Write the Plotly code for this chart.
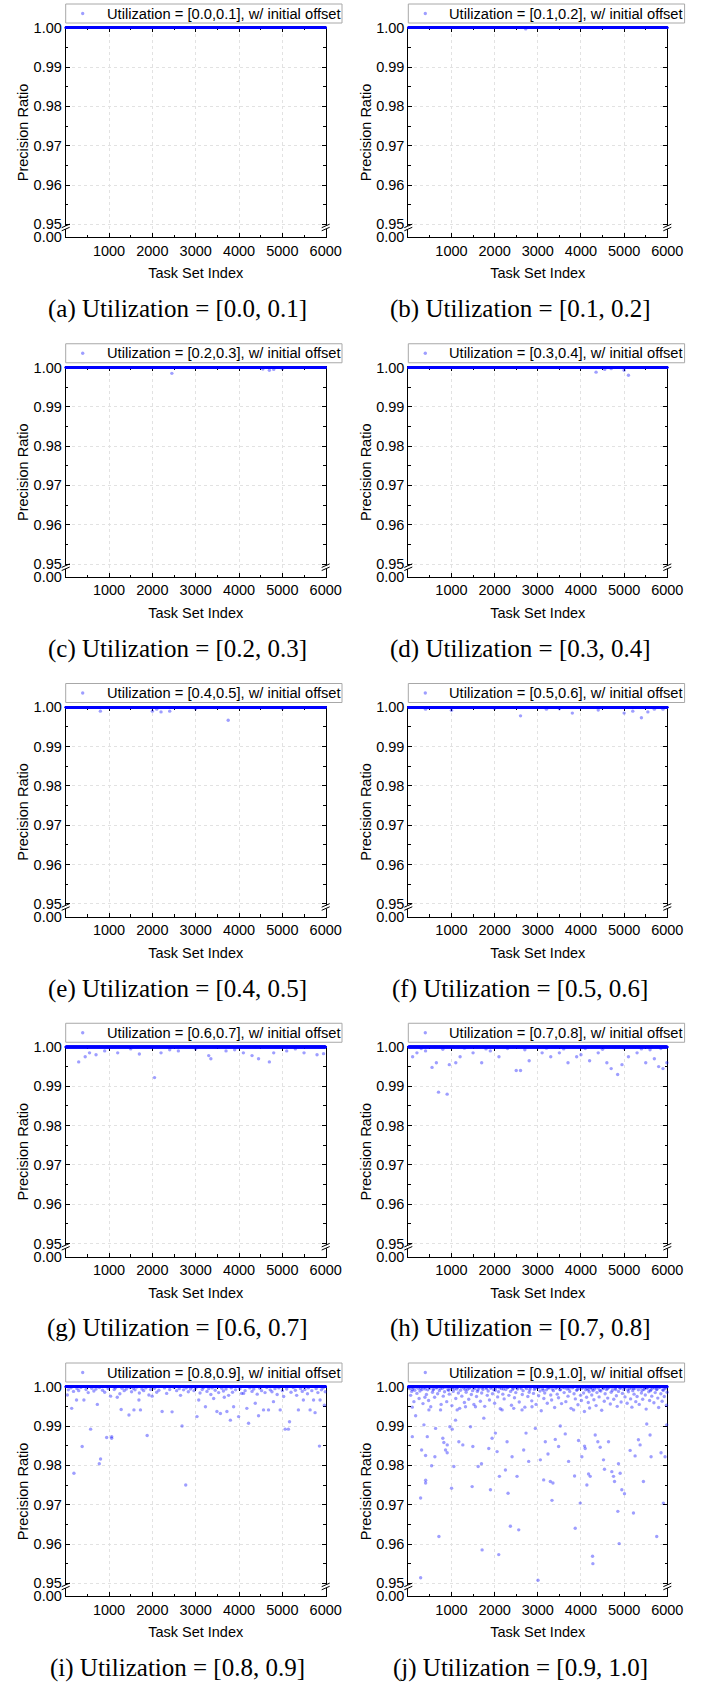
import plotly.graph_objects as go

# ---------------- data ----------------
task_ids = list(range(1, 6001))          # Task Set Index 1..6000

util_labels = ["[0.0,0.1]", "[0.1,0.2]", "[0.2,0.3]", "[0.3,0.4]", "[0.4,0.5]",
               "[0.5,0.6]", "[0.6,0.7]", "[0.7,0.8]", "[0.8,0.9]", "[0.9,1.0]"]
caption_labels = ["(a) Utilization = [0.0, 0.1]", "(b) Utilization = [0.1, 0.2]",
                  "(c) Utilization = [0.2, 0.3]", "(d) Utilization = [0.3, 0.4]",
                  "(e) Utilization = [0.4, 0.5]", "(f) Utilization = [0.5, 0.6]",
                  "(g) Utilization = [0.6, 0.7]", "(h) Utilization = [0.7, 0.8]",
                  "(i) Utilization = [0.8, 0.9]", "(j) Utilization = [0.9, 1.0]"]

x_ticks = [1000, 2000, 3000, 4000, 5000, 6000]
x_minor = [500, 1500, 2500, 3500, 4500, 5500]
y_ticks = [0.95, 0.96, 0.97, 0.98, 0.99, 1.00]
y_minor = [0.955, 0.965, 0.975, 0.985, 0.995]

# task sets whose precision ratio is below 1.0 (index, ratio); all others are 1.0
low_a = []
low_b = [(2720, 0.9997)]
low_c = [(2450, 0.9985), (4550, 0.9996), (4700, 0.9993), (4800, 0.9995), (5000, 0.9997)]
low_d = [(4350, 0.9988), (4550, 0.9995), (5100, 0.9980), (5000, 0.9993), (4700, 0.9997)]
low_e = [(800, 0.9990), (2000, 0.9990), (2200, 0.9988), (2400, 0.9990), (2100, 0.9995),
         (3750, 0.9967), (3000, 0.9996), (5000, 0.9997)]
low_f = [(400, 0.9995), (1000, 0.9992), (2600, 0.9978), (3800, 0.9985), (3200, 0.9995),
         (4400, 0.9993), (5000, 0.9985), (5200, 0.9990), (5400, 0.9973), (5550, 0.9988),
         (5700, 0.9995), (5900, 0.9995), (2000, 0.9997), (3500, 0.9996)]
low_g = [(300, 0.9962), (450, 0.9975), (550, 0.9985), (700, 0.9980), (900, 0.9990),
         (1200, 0.9985), (1500, 0.9995), (1700, 0.9982), (2050, 0.9922), (2200, 0.9985),
         (2600, 0.9990), (3000, 0.9995), (3300, 0.9978), (3350, 0.9970), (3700, 0.9990),
         (4100, 0.9985), (4300, 0.9978), (4450, 0.9970), (4700, 0.9962), (4800, 0.9985),
         (5100, 0.9990), (5500, 0.9985), (5800, 0.9980), (5950, 0.9983), (2400, 0.9993),
         (3900, 0.9993), (5300, 0.9995)]
low_h = [(100, 0.9975), (200, 0.9985), (400, 0.9990), (550, 0.9948), (650, 0.9960),
         (700, 0.9885), (900, 0.9880), (950, 0.9955), (1100, 0.9960), (1200, 0.9975),
         (1500, 0.9985), (1700, 0.9960), (1900, 0.9990), (2100, 0.9975), (2500, 0.9940),
         (2600, 0.9940), (2800, 0.9965), (3100, 0.9985), (3300, 0.9975), (3500, 0.9985),
         (3700, 0.9960), (3900, 0.9975), (4000, 0.9980), (4200, 0.9965), (4400, 0.9985),
         (4600, 0.9960), (4700, 0.9945), (4850, 0.9930), (4950, 0.9955), (5100, 0.9975),
         (5300, 0.9985), (5500, 0.9960), (5700, 0.9970), (5800, 0.9950), (5900, 0.9945),
         (5990, 0.9960), (300, 0.9996), (800, 0.9994), (1300, 0.9997), (1800, 0.9995),
         (2300, 0.9996), (2700, 0.9993), (3200, 0.9997), (3600, 0.9995), (4100, 0.9996),
         (4500, 0.9994), (5000, 0.9997), (5400, 0.9995), (5600, 0.9993), (5850, 0.9996)]
low_i = [(38, 0.9979), (138, 0.9945), (190, 0.9780), (250, 0.9966), (380, 0.9848),
         (420, 0.9966), (575, 0.9892), (730, 0.9955), (775, 0.9804), (805, 0.9816),
         (945, 0.9871), (1036, 0.9976), (1060, 0.9869), (1062, 0.9873), (1190, 0.9973),
         (1280, 0.9942), (1460, 0.9928), (1575, 0.9941), (1725, 0.9941), (1690, 0.9966),
         (1880, 0.9876), (1995, 0.9976), (2225, 0.9937), (2455, 0.9936), (2685, 0.9900),
         (2770, 0.9750), (3030, 0.9924), (3070, 0.9966), (3225, 0.9949), (3415, 0.9970),
         (3490, 0.9937), (3570, 0.9932), (3660, 0.9973), (3720, 0.9937), (3800, 0.9915),
         (3875, 0.9949), (3990, 0.9924), (4105, 0.9983), (4220, 0.9907), (4180, 0.9945),
         (4375, 0.9958), (4450, 0.9926), (4565, 0.9941), (4680, 0.9941), (4795, 0.9962),
         (4950, 0.9941), (5065, 0.9892), (5140, 0.9892), (5165, 0.9911), (5370, 0.9941),
         (5485, 0.9966), (5640, 0.9941), (5755, 0.9934), (5855, 0.9849), (5870, 0.9966),
         (5970, 0.9953),
         (60, 0.9992), (120, 0.9997), (180, 0.9988), (260, 0.9995), (300, 0.9990),
         (350, 0.9998), (470, 0.9993), (520, 0.9985), (600, 0.9996), (650, 0.9989),
         (700, 0.9994), (780, 0.9998), (850, 0.9991), (900, 0.9986), (980, 0.9995),
         (1120, 0.9993), (1150, 0.9997), (1250, 0.9982), (1300, 0.9996), (1350, 0.9990),
         (1400, 0.9994), (1480, 0.9998), (1520, 0.9987), (1560, 0.9996), (1600, 0.9992),
         (1640, 0.9999), (1700, 0.9984), (1760, 0.9994), (1800, 0.9990), (1850, 0.9997),
         (1920, 0.9979), (1960, 0.9993), (2050, 0.9996), (2100, 0.9986), (2150, 0.9991),
         (2280, 0.9997), (2330, 0.9983), (2400, 0.9993), (2500, 0.9998), (2560, 0.9990),
         (2620, 0.9995), (2650, 0.9978), (2720, 0.9992), (2780, 0.9997), (2830, 0.9987),
         (2880, 0.9994), (2920, 0.9999), (2960, 0.9990), (3000, 0.9996), (3100, 0.9984),
         (3150, 0.9993), (3180, 0.9998), (3260, 0.9988), (3300, 0.9995), (3350, 0.9980),
         (3380, 0.9997), (3450, 0.9991), (3530, 0.9985), (3600, 0.9996), (3640, 0.9989),
         (3700, 0.9994), (3760, 0.9978), (3820, 0.9997), (3850, 0.9986), (3920, 0.9992),
         (4020, 0.9995), (4060, 0.9983), (4140, 0.9990), (4250, 0.9997), (4300, 0.9988),
         (4340, 0.9994), (4420, 0.9981), (4480, 0.9996), (4520, 0.9990), (4600, 0.9985),
         (4640, 0.9998), (4720, 0.9992), (4760, 0.9987), (4830, 0.9995), (4880, 0.9980),
         (4920, 0.9997), (5000, 0.9990), (5030, 0.9975), (5100, 0.9994), (5200, 0.9986),
         (5250, 0.9998), (5300, 0.9991), (5330, 0.9978), (5420, 0.9995), (5460, 0.9988),
         (5520, 0.9993), (5580, 0.9982), (5600, 0.9997), (5680, 0.9990), (5720, 0.9966),
         (5780, 0.9995), (5820, 0.9985), (5900, 0.9992), (5940, 0.9997), (5990, 0.9987)]
low_j = [(92, 0.9948), (93, 0.9873), (170, 0.9926), (285, 0.9717), (286, 0.9514),
         (308, 0.9839), (362, 0.9903), (385, 0.9973), (400, 0.9825), (401, 0.9755),
         (402, 0.9762), (440, 0.9873), (478, 0.9941), (540, 0.9799), (616, 0.9822),
         (632, 0.9894), (709, 0.9619), (747, 0.9941), (800, 0.9869), (824, 0.9858),
         (863, 0.9839), (901, 0.9832), (902, 0.9852), (963, 0.9898), (1002, 0.9742),
         (1017, 0.9892), (1055, 0.9797), (1094, 0.9915), (1132, 0.9941), (1171, 0.9860),
         (1263, 0.9852), (1325, 0.9949), (1441, 0.9898), (1479, 0.9746), (1495, 0.9848),
         (1556, 0.9949), (1618, 0.9797), (1695, 0.9804), (1710, 0.9585), (1749, 0.9920),
         (1864, 0.9843), (1903, 0.9738), (1941, 0.9869), (2018, 0.9882), (2057, 0.9835),
         (2095, 0.9573), (2111, 0.9772), (2173, 0.9941), (2250, 0.9788), (2288, 0.9860),
         (2311, 0.9729), (2365, 0.9645), (2404, 0.9822), (2442, 0.9945), (2519, 0.9772),
         (2558, 0.9636), (2635, 0.9941), (2673, 0.9839), (2727, 0.9882), (2789, 0.9810),
         (2866, 0.9949), (2943, 0.9894), (3005, 0.9508), (3059, 0.9814), (3136, 0.9763),
         (3174, 0.9860), (3236, 0.9829), (3290, 0.9759), (3328, 0.9711), (3351, 0.9755),
         (3405, 0.9866), (3482, 0.9848), (3521, 0.9900), (3636, 0.9880), (3713, 0.9810),
         (3829, 0.9941), (3852, 0.9773), (3867, 0.9640), (3944, 0.9863), (3983, 0.9704),
         (4021, 0.9822), (4083, 0.9849), (4098, 0.9843), (4137, 0.9750), (4176, 0.9778),
         (4214, 0.9772), (4268, 0.9569), (4276, 0.9550), (4330, 0.9877), (4391, 0.9860),
         (4445, 0.9846), (4522, 0.9814), (4545, 0.9790), (4638, 0.9860), (4715, 0.9784),
         (4754, 0.9772), (4777, 0.9759), (4854, 0.9683), (4869, 0.9804), (4885, 0.9601),
         (4908, 0.9780), (4946, 0.9738), (5008, 0.9728), (5139, 0.9838), (5216, 0.9679),
         (5254, 0.9824), (5331, 0.9865), (5370, 0.9852), (5447, 0.9759), (5524, 0.9905),
         (5601, 0.9877), (5624, 0.9822), (5755, 0.9619), (5855, 0.9832), (5909, 0.9704),
         (5948, 0.9822), (5986, 0.9903),
         (30, 0.9995), (55, 0.9978), (80, 0.9988), (110, 0.9997), (130, 0.9962),
         (150, 0.9991), (200, 0.9983), (230, 0.9996), (250, 0.9970), (270, 0.9989),
         (320, 0.9993), (340, 0.9957), (370, 0.9998), (420, 0.9980), (450, 0.9992),
         (470, 0.9965), (500, 0.9996), (520, 0.9949), (560, 0.9986), (590, 0.9994),
         (610, 0.9973), (650, 0.9998), (680, 0.9982), (720, 0.9990), (760, 0.9955),
         (790, 0.9996), (810, 0.9976), (840, 0.9987), (870, 0.9999), (890, 0.9962),
         (920, 0.9993), (950, 0.9981), (990, 0.9996), (1010, 0.9952), (1040, 0.9988),
         (1070, 0.9994), (1100, 0.9970), (1140, 0.9998), (1160, 0.9984), (1190, 0.9945),
         (1210, 0.9991), (1240, 0.9976), (1280, 0.9997), (1300, 0.9960), (1340, 0.9986),
         (1370, 0.9993), (1400, 0.9968), (1430, 0.9999), (1460, 0.9980), (1490, 0.9990),
         (1520, 0.9955), (1540, 0.9995), (1580, 0.9975), (1600, 0.9988), (1640, 0.9997),
         (1670, 0.9963), (1700, 0.9984), (1730, 0.9993), (1770, 0.9950), (1800, 0.9998),
         (1830, 0.9978), (1850, 0.9989), (1880, 0.9966), (1910, 0.9996), (1950, 0.9982),
         (1980, 0.9992), (2000, 0.9958), (2030, 0.9997), (2070, 0.9974), (2090, 0.9987),
         (2130, 0.9944), (2160, 0.9995), (2190, 0.9981), (2220, 0.9969), (2260, 0.9993),
         (2300, 0.9998), (2330, 0.9978), (2370, 0.9988), (2390, 0.9953), (2430, 0.9996),
         (2460, 0.9972), (2490, 0.9985), (2530, 0.9994), (2570, 0.9961), (2600, 0.9999),
         (2640, 0.9980), (2660, 0.9990), (2700, 0.9948), (2740, 0.9995), (2770, 0.9975),
         (2800, 0.9986), (2830, 0.9997), (2860, 0.9964), (2900, 0.9983), (2920, 0.9993),
         (2960, 0.9955), (2990, 0.9998), (3020, 0.9977), (3050, 0.9989), (3080, 0.9939),
         (3110, 0.9995), (3140, 0.9970), (3160, 0.9984), (3200, 0.9992), (3220, 0.9958),
         (3260, 0.9997), (3300, 0.9979), (3320, 0.9966), (3360, 0.9990), (3390, 0.9947),
         (3420, 0.9996), (3450, 0.9981), (3480, 0.9972), (3510, 0.9993), (3550, 0.9957),
         (3580, 0.9998), (3610, 0.9985), (3650, 0.9962), (3680, 0.9994), (3700, 0.9976),
         (3740, 0.9988), (3770, 0.9945), (3800, 0.9997), (3840, 0.9982), (3870, 0.9969),
         (3900, 0.9991), (3930, 0.9954), (3960, 0.9996), (3990, 0.9978), (4010, 0.9965),
         (4040, 0.9999), (4060, 0.9984), (4080, 0.9937), (4110, 0.9992), (4130, 0.9973),
         (4150, 0.9996), (4170, 0.9960), (4190, 0.9987), (4200, 0.9946), (4230, 0.9998),
         (4250, 0.9979), (4280, 0.9990), (4300, 0.9967), (4320, 0.9994), (4350, 0.9952),
         (4370, 0.9985), (4400, 0.9997), (4420, 0.9974), (4460, 0.9989), (4480, 0.9940),
         (4510, 0.9995), (4540, 0.9963), (4560, 0.9982), (4590, 0.9993), (4620, 0.9971),
         (4650, 0.9998), (4680, 0.9956), (4700, 0.9986), (4730, 0.9991), (4760, 0.9968),
         (4790, 0.9996), (4820, 0.9977), (4840, 0.9950), (4870, 0.9988), (4900, 0.9997),
         (4930, 0.9961), (4960, 0.9983), (4990, 0.9993), (5020, 0.9974), (5040, 0.9999),
         (5070, 0.9958), (5100, 0.9987), (5120, 0.9995), (5150, 0.9969), (5180, 0.9948),
         (5200, 0.9990), (5230, 0.9981), (5250, 0.9996), (5270, 0.9962), (5300, 0.9975),
         (5330, 0.9992), (5350, 0.9955), (5380, 0.9998), (5400, 0.9984), (5430, 0.9968),
         (5460, 0.9993), (5490, 0.9979), (5510, 0.9943), (5540, 0.9996), (5570, 0.9987),
         (5590, 0.9965), (5610, 0.9990), (5640, 0.9976), (5660, 0.9997), (5690, 0.9959),
         (5720, 0.9985), (5750, 0.9993), (5780, 0.9971), (5800, 0.9947), (5830, 0.9998),
         (5850, 0.9982), (5880, 0.9963), (5910, 0.9991), (5930, 0.9975), (5960, 0.9996),
         (5980, 0.9953), (5995, 0.9986),
         (15, 0.9998), (95, 0.9993), (175, 0.9999), (290, 0.9996), (395, 0.9994),
         (485, 0.9999), (575, 0.9992), (665, 0.9997), (745, 0.9995), (825, 0.9999),
         (935, 0.9991), (1025, 0.9997), (1125, 0.9994), (1225, 0.9999), (1315, 0.9993),
         (1415, 0.9996), (1505, 0.9998), (1615, 0.9992), (1715, 0.9997), (1815, 0.9995),
         (1925, 0.9999), (2015, 0.9991), (2115, 0.9997), (2205, 0.9994), (2315, 0.9999),
         (2415, 0.9993), (2515, 0.9997), (2615, 0.9995), (2715, 0.9999), (2815, 0.9992),
         (2935, 0.9996), (3035, 0.9998), (3125, 0.9991), (3235, 0.9997), (3335, 0.9994),
         (3435, 0.9999), (3525, 0.9992), (3625, 0.9997), (3725, 0.9995), (3825, 0.9999),
         (3915, 0.9993), (4025, 0.9996), (4095, 0.9998), (4165, 0.9992), (4215, 0.9997),
         (4265, 0.9994), (4335, 0.9999), (4435, 0.9991), (4525, 0.9997), (4615, 0.9995),
         (4715, 0.9999), (4805, 0.9993), (4915, 0.9996), (5005, 0.9998), (5085, 0.9992),
         (5165, 0.9997), (5215, 0.9995), (5315, 0.9999), (5415, 0.9991), (5475, 0.9996),
         (5525, 0.9998), (5625, 0.9993), (5705, 0.9997), (5765, 0.9994), (5815, 0.9999),
         (5895, 0.9992), (5945, 0.9997)]

low_points = [low_a, low_b, low_c, low_d, low_e, low_f, low_g, low_h, low_i, low_j]

# ---------------- layout geometry (pixels) ----------------
W, H = 711, 1683
COL_L = [65.7, 408.3]
COL_R = [325.7, 667.3]
ROW_TOP0 = 27.7
ROW_PITCH = 339.75
PLOT_H = 209.6
LEG_TOP0, LEG_BOT0, LEG_W = 4.0, 23.0, 276.3
CAPTION_Y0 = 309.0
CAPTION_X = [177.7, 520.0]

Y_BOTTOM = 0.9467     # bottom edge of the broken axis, labelled "0.00"
Y_BREAK = 0.9492      # position of the axis break marks

SANS = "Liberation Sans, Arial, Helvetica, sans-serif"
SERIF = "Liberation Serif, Times New Roman, serif"
BLUE = "rgba(0,0,255,0.38)"
TICK_FS = 14.5
LEG_FS = 14.7


def px(xp):
    return xp / W


def py(yp):
    return 1 - yp / H


fig = go.Figure()
shapes = []
annotations = []

for k in range(10):
    r, c = divmod(k, 2)
    suffix = "" if k == 0 else str(k + 1)
    xa, ya = "x" + suffix, "y" + suffix
    name = f"Utilization = {util_labels[k]}, w/ initial offset"

    low = low_points[k]
    low_ids = set(i for i, _ in low)
    ones_x = [t for t in task_ids if t not in low_ids]

    # task sets with ratio exactly 1.0 (form the dense band on the top edge)
    fig.add_trace(go.Scatter(
        x=ones_x, y=[1.0] * len(ones_x), mode="markers",
        marker=dict(size=2.5, color=BLUE, line=dict(width=0)),
        name=name, xaxis=xa, yaxis=ya, cliponaxis=False, showlegend=False,
    ))
    # task sets with ratio below 1.0
    fig.add_trace(go.Scatter(
        x=[i for i, _ in low], y=[v for _, v in low], mode="markers",
        marker=dict(size=3.4, color=BLUE, line=dict(width=0)),
        name=name, xaxis=xa, yaxis=ya, cliponaxis=False, showlegend=False,
    ))

    top = ROW_TOP0 + ROW_PITCH * r
    bot = top + PLOT_H
    xdom = [px(COL_L[c]), px(COL_R[c])]
    ydom = [py(bot), py(top)]

    axis_common = dict(
        showline=True, linecolor="black", linewidth=1, mirror="ticks",
        ticks="inside", ticklen=4, tickwidth=1, tickcolor="black",
        showgrid=True, gridcolor="#e2e2e2", griddash="dot", gridwidth=1,
        zeroline=False, tickfont=dict(family=SANS, size=TICK_FS, color="black"),
        layer="below traces", automargin=False,
    )
    fig.layout["xaxis" + suffix] = dict(
        axis_common, domain=xdom, anchor=ya, range=[0, 6000],
        tickmode="array", tickvals=x_ticks, ticktext=[str(v) for v in x_ticks],
        minor=dict(tickmode="array", tickvals=x_minor, ticks="inside", ticklen=2.5,
                   tickcolor="black", showgrid=False),
        title=dict(text="Task Set Index",
                   font=dict(family=SANS, size=TICK_FS, color="black"), standoff=10),
    )
    fig.layout["yaxis" + suffix] = dict(
        axis_common, domain=ydom, anchor=xa, range=[Y_BOTTOM, 1.0],
        tickmode="array", tickvals=[Y_BOTTOM] + y_ticks,
        ticktext=["0.00"] + [f"{v:.2f}" for v in y_ticks],
        minor=dict(tickmode="array", tickvals=y_minor, ticks="inside", ticklen=2.5,
                   tickcolor="black", showgrid=False),
        title=dict(text="Precision Ratio",
                   font=dict(family=SANS, size=TICK_FS, color="black"), standoff=1),
    )

    # legend box for this panel
    lx0 = COL_L[c]
    ly0 = LEG_TOP0 + ROW_PITCH * r
    ly1 = LEG_BOT0 + ROW_PITCH * r
    lyc = (ly0 + ly1) / 2
    shapes.append(dict(type="rect", xref="paper", yref="paper",
                       x0=px(lx0), x1=px(lx0 + LEG_W), y0=py(ly1), y1=py(ly0),
                       fillcolor="white", line=dict(color="#a8a8a8", width=1)))
    shapes.append(dict(type="circle", xref="paper", yref="paper",
                       x0=px(lx0 + 15.3), x1=px(lx0 + 18.7),
                       y0=py(lyc + 1.7), y1=py(lyc - 1.7),
                       fillcolor=BLUE, line=dict(width=0)))
    annotations.append(dict(
        text=name, xref="paper", yref="paper", x=px(lx0 + 39), y=py(lyc),
        xanchor="left", yanchor="middle", showarrow=False,
        font=dict(family=SANS, size=LEG_FS, color="black"),
    ))

    # axis break marks on the left and right spines
    pw = COL_R[c] - COL_L[c]
    dx = 4.0 / pw
    for xd in (0.0, 1.0):
        shapes.append(dict(type="line", xref=xa + " domain", yref=ya,
                           x0=xd, x1=xd, y0=Y_BREAK - 0.0004, y1=Y_BREAK + 0.0004,
                           line=dict(color="white", width=3)))
        for off in (-0.0004, 0.0004):
            shapes.append(dict(type="line", xref=xa + " domain", yref=ya,
                               x0=xd - dx, x1=xd + dx,
                               y0=Y_BREAK + off - 0.00045, y1=Y_BREAK + off + 0.00045,
                               line=dict(color="black", width=1)))

    annotations.append(dict(
        text=caption_labels[k], xref="paper", yref="paper",
        x=px(CAPTION_X[c]), y=py(CAPTION_Y0 + ROW_PITCH * r),
        xanchor="center", yanchor="middle", showarrow=False,
        font=dict(family=SERIF, size=25, color="black"),
    ))

fig.update_layout(
    template="none",
    width=W, height=H, margin=dict(l=0, r=0, t=0, b=0, autoexpand=False),
    paper_bgcolor="white", plot_bgcolor="white",
    font=dict(family=SANS, size=14, color="black"),
    showlegend=False,
    shapes=shapes, annotations=annotations,
)

fig.write_html("out.html")
